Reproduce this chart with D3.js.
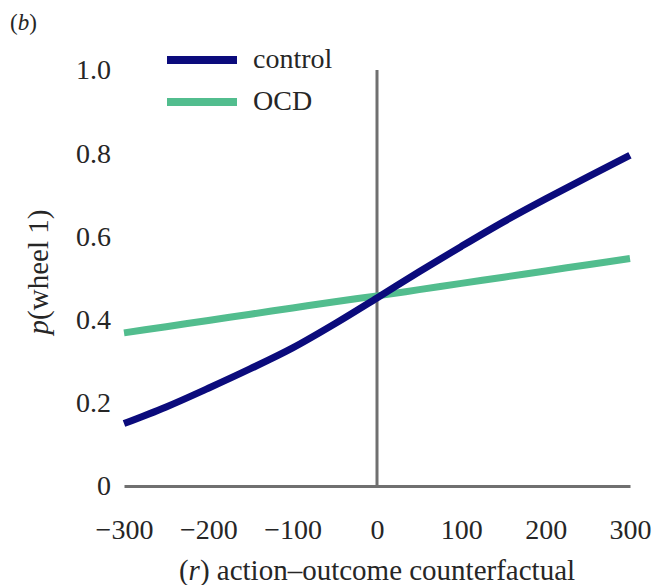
<!DOCTYPE html>
<html lang="en">
<head>
    <meta charset="UTF-8">
    <title>p(wheel 1) vs action-outcome counterfactual</title>
    <script src="https://d3js.org/d3.v7.min.js"></script>
    <style>
        body { margin: 0; background: #fff; }
    </style>
</head>
<body>
    <div id="chart"></div>

    <script>
        // Datos
        const rValues = [-300, -250, -200, -150, -100, -50, 0, 50, 100, 150, 200, 250, 300];
        const controlValues = [0.150, 0.190, 0.235, 0.282, 0.332, 0.390, 0.452, 0.515, 0.576, 0.635, 0.690, 0.743, 0.795];
        const ocdValues = [0.368, 0.383, 0.398, 0.413, 0.428, 0.443, 0.457, 0.472, 0.487, 0.502, 0.517, 0.532, 0.547];
        const xTicks = [-300, -200, -100, 0, 100, 200, 300];
        const yTicks = [0, 0.2, 0.4, 0.6, 0.8, 1.0];
        const seriesNames = ["control", "OCD"];
        const seriesColors = ["#0b0b7c", "#52bd8e"];

        const width = 661, height = 585;
        const INK = "#262626";

        const svg = d3.select("#chart").append("svg")
            .attr("width", width)
            .attr("height", height);

        // Escalas
        const xScale = d3.scaleLinear().domain([-300, 300]).range([124, 630]);
        const yScale = d3.scaleLinear().domain([0, 1]).range([486, 70]);

        const fmtY = d => d === 0 ? "0" : d3.format(".1f")(d);
        const fmtX = d => d < 0 ? "\u2212" + Math.abs(d) : String(d);

        // Eje x (línea en y = 0)
        const xAxis = svg.append("g")
            .attr("transform", `translate(0,${yScale(0)})`)
            .call(d3.axisBottom(xScale).tickValues(xTicks).tickSize(0).tickPadding(33).tickFormat(fmtX));
        xAxis.attr("font-family", "Liberation Serif").attr("font-size", 28);
        xAxis.select(".domain").attr("stroke", "#707070").attr("stroke-width", 3);
        xAxis.selectAll("text").attr("fill", INK);

        // Eje y (solo etiquetas)
        const yAxis = svg.append("g")
            .attr("transform", `translate(${xScale(-300)},0)`)
            .call(d3.axisLeft(yScale).tickValues(yTicks).tickSize(0).tickPadding(13).tickFormat(fmtY));
        yAxis.attr("font-family", "Liberation Serif").attr("font-size", 28);
        yAxis.select(".domain").remove();
        yAxis.selectAll("text").attr("fill", INK);

        // Línea vertical en r = 0
        svg.append("line")
            .attr("x1", xScale(0)).attr("x2", xScale(0))
            .attr("y1", yScale(0)).attr("y2", yScale(1))
            .attr("stroke", "#707070")
            .attr("stroke-width", 3);

        // Curvas
        const line = d3.line()
            .x((d, i) => xScale(rValues[i]))
            .y(d => yScale(d))
            .curve(d3.curveMonotoneX);

        [ocdValues, controlValues].forEach((vals, k) => {
            const idx = k === 0 ? 1 : 0;
            svg.append("path")
                .datum(vals)
                .attr("fill", "none")
                .attr("stroke", seriesColors[idx])
                .attr("stroke-width", 7)
                .attr("d", line);
        });

        // Leyenda
        const legend = svg.append("g").attr("transform", "translate(167,60)");
        seriesNames.forEach((name, i) => {
            const g = legend.append("g").attr("transform", `translate(0,${i * 42})`);
            g.append("line")
                .attr("x1", 0).attr("x2", 70)
                .attr("stroke", seriesColors[i])
                .attr("stroke-width", 8);
            g.append("text")
                .attr("x", 86).attr("y", 8)
                .attr("font-family", "Liberation Serif")
                .attr("font-size", 28)
                .attr("fill", INK)
                .text(name);
        });

        // Títulos
        svg.append("text")
            .attr("x", 10).attr("y", 30)
            .attr("font-family", "Liberation Serif")
            .attr("font-size", 23)
            .attr("fill", INK)
            .html('(<tspan font-style="italic">b</tspan>)');

        svg.append("text")
            .attr("transform", "translate(48,272) rotate(-90)")
            .attr("text-anchor", "middle")
            .attr("font-family", "Liberation Serif")
            .attr("font-size", 29)
            .attr("fill", INK)
            .html('<tspan font-style="italic">p</tspan>(wheel 1)');

        svg.append("text")
            .attr("x", xScale(0)).attr("y", 580)
            .attr("text-anchor", "middle")
            .attr("font-family", "Liberation Serif")
            .attr("font-size", 29)
            .attr("fill", INK)
            .html('(<tspan font-style="italic">r</tspan>) action\u2013outcome counterfactual');
    </script>
</body>
</html>
